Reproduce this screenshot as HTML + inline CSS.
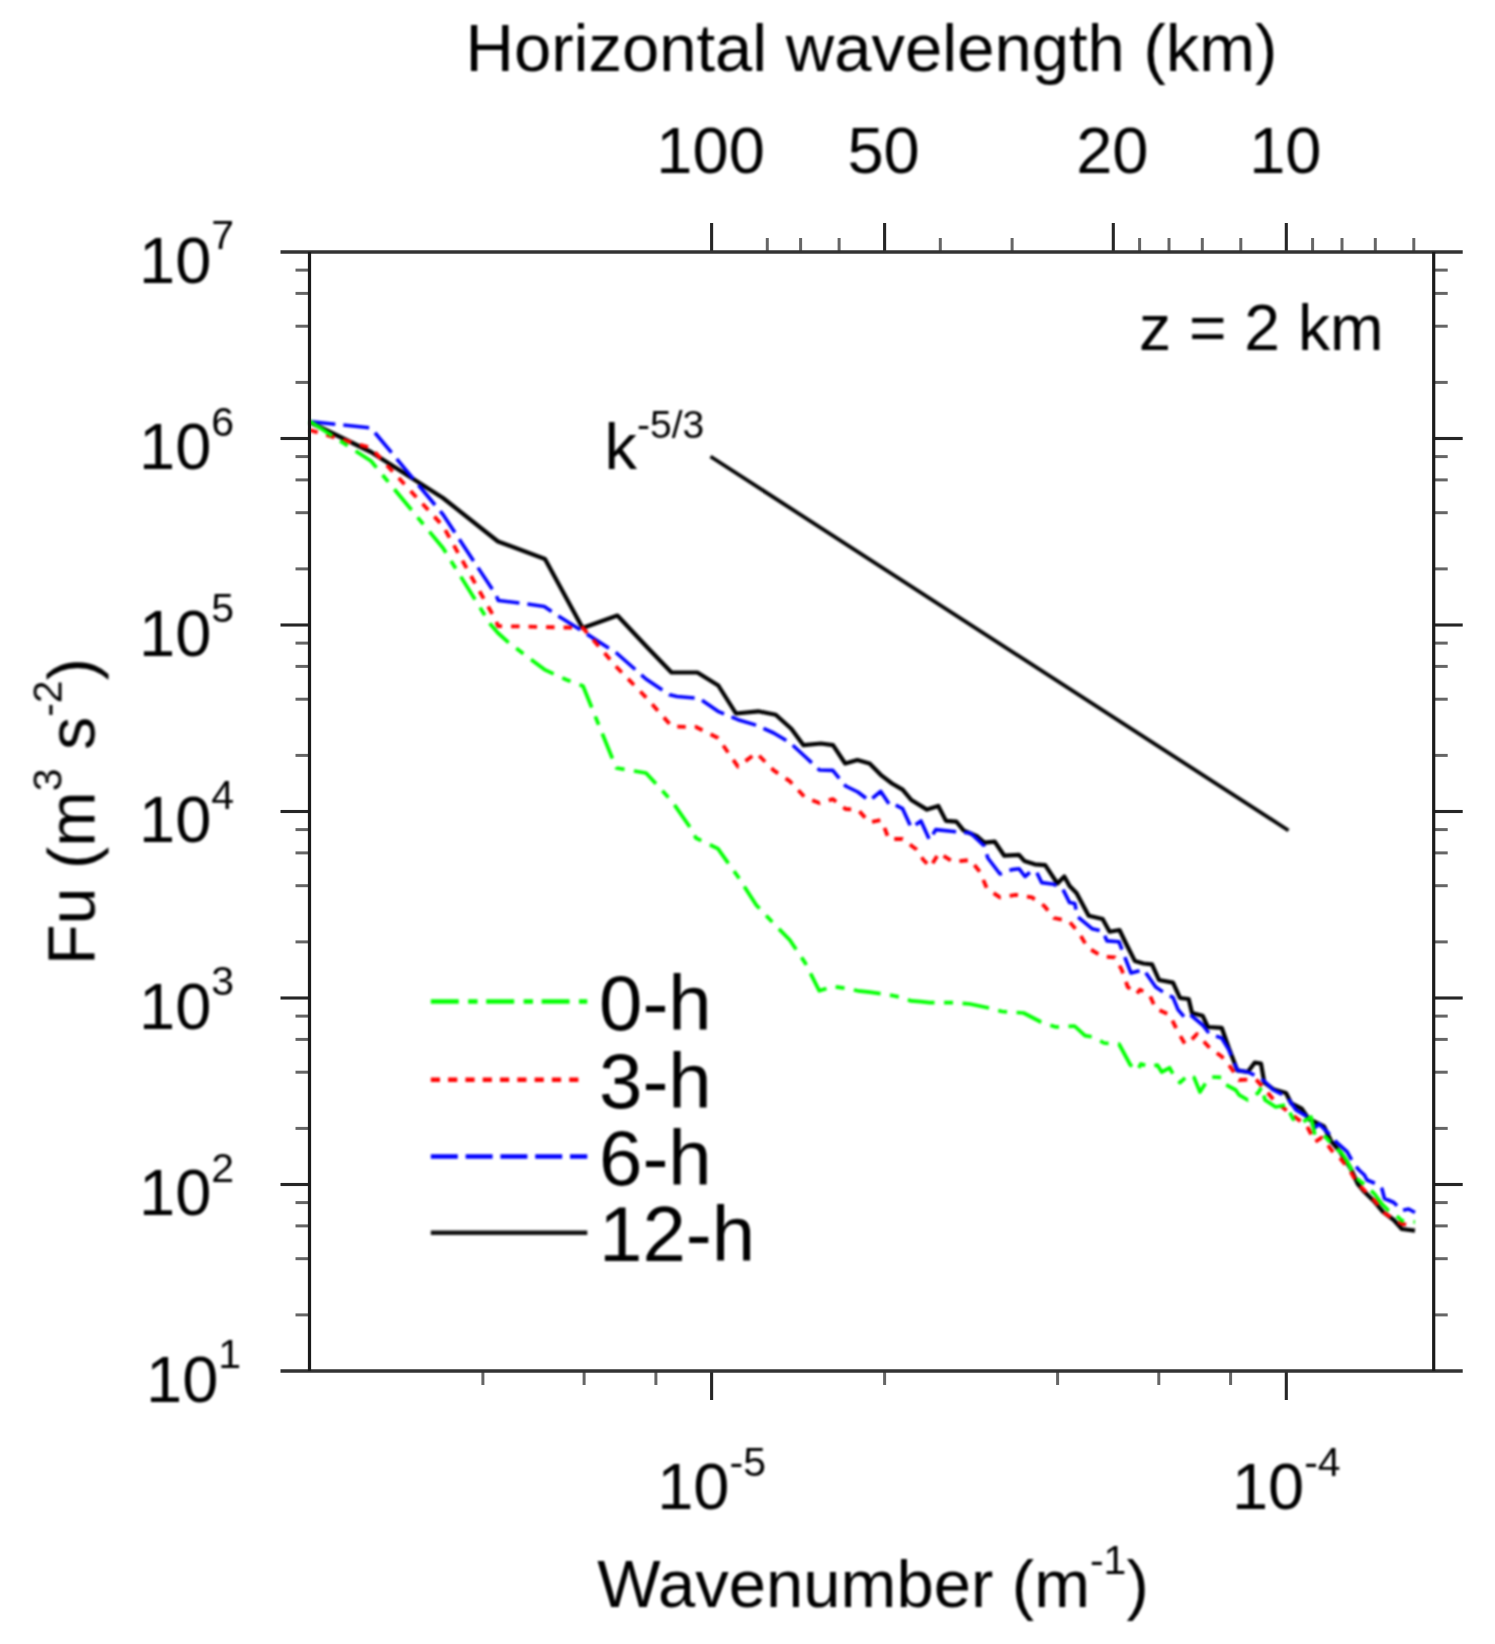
<!DOCTYPE html>
<html lang="en"><head><meta charset="utf-8"><title>Fu spectra, z = 2 km</title>
<style>
html,body{margin:0;padding:0;background:#fff;}
body{width:1495px;height:1644px;overflow:hidden;}
svg{display:block;font-family:"Liberation Sans",Arial,Helvetica,sans-serif;fill:#000;}
.ax{stroke:#1a1a1a;stroke-width:3.2;fill:none;}
.axh{stroke:#333;stroke-width:3.4;fill:none;}
.tk{stroke:#262626;stroke-width:3.1;fill:none;}
.mt{stroke:#666;stroke-width:3;fill:none;}
.c{fill:none;stroke-linejoin:round;stroke-linecap:butt;}
.t{font-size:65px;}
.s{font-size:41px;}
.lg{font-size:78px;}
#chart{width:1495px;height:1644px;}
#curves,#labels,#legend{filter:blur(1px);}
</style></head><body><div id="chart">
<svg width="1495" height="1644" viewBox="0 0 1495 1644">
<rect width="1495" height="1644" fill="#fff"/>
<g id="plot">
<g id="curves">
<polyline class="c" stroke="#000" stroke-width="4.2" points="309.5,422.0 371.0,452.0 443.0,498.0 498.0,541.5 545.0,559.0 582.6,628.0 617.4,615.5 646.0,646.0 671.5,672.5 697.4,672.5 718.3,685.5 736.0,713.5 758.3,711.3 775.7,714.8 791.3,728.7 803.5,745.2 820.9,743.5 833.0,745.2 845.2,763.5 857.4,760.0 869.6,763.5 881.7,775.7 892.0,783.5 902.6,789.6 911.3,800.0 927.0,809.6 938.3,806.0 946.0,820.9 956.5,821.7 963.5,830.4 977.4,836.5 984.3,842.6 994.8,841.7 1004.3,855.7 1019.0,854.8 1024.3,860.9 1034.8,864.3 1045.2,865.2 1057.4,883.5 1064.3,876.5 1069.6,886.0 1076.5,893.0 1088.7,915.7 1102.6,919.0 1109.6,931.7 1119.5,930.0 1126.0,943.5 1134.8,960.9 1143.5,963.5 1152.0,964.3 1159.0,980.0 1173.0,982.6 1180.0,998.0 1188.7,999.0 1192.0,1013.0 1202.6,1015.7 1207.8,1027.0 1221.7,1027.8 1228.7,1047.8 1237.4,1070.4 1247.8,1072.0 1254.8,1062.6 1261.0,1063.5 1264.3,1082.6 1274.0,1089.6 1286.0,1093.0 1291.3,1103.5 1301.7,1108.7 1308.7,1119.0 1324.0,1126.5 1331.0,1141.0 1340.0,1151.7 1351.0,1169.0 1357.7,1183.8 1364.4,1191.8 1373.8,1201.0 1383.0,1211.9 1393.8,1220.0 1401.9,1229.0 1415.0,1230.6"/>
<polyline class="c" stroke="#00f" stroke-width="3.6" stroke-dasharray="26 8" points="309.5,421.5 371.0,428.0 443.0,514.5 496.0,595.0 498.3,600.5 524.0,603.5 544.3,606.5 556.0,614.5 582.6,631.3 616.5,653.0 646.0,679.0 669.6,694.8 677.0,696.5 699.0,698.3 718.0,711.3 738.0,719.7 756.4,725.2 773.7,733.0 789.8,742.6 805.0,756.5 819.3,770.0 832.8,770.4 845.6,786.0 857.8,792.0 869.5,800.9 880.6,791.3 890.4,806.0 895.7,805.2 902.6,808.7 911.3,827.8 921.0,821.0 929.6,840.0 935.7,829.6 958.3,832.0 970.4,833.0 984.3,846.0 987.8,858.0 1000.0,874.0 1012.0,869.6 1019.0,868.7 1025.0,876.5 1031.3,871.3 1036.5,872.0 1041.7,882.6 1054.0,884.3 1062.6,888.7 1069.6,902.6 1074.8,903.5 1077.4,916.5 1092.0,928.7 1102.6,931.3 1107.0,940.9 1119.0,941.7 1124.3,955.7 1131.0,973.0 1143.5,969.6 1155.7,987.0 1166.0,994.0 1173.0,997.4 1178.0,1009.6 1185.0,1018.0 1190.4,1014.8 1202.6,1025.0 1209.6,1034.0 1221.7,1038.0 1228.7,1049.6 1237.4,1070.4 1247.8,1072.0 1256.0,1076.0 1264.0,1080.8 1273.4,1090.0 1286.8,1096.8 1296.0,1110.0 1305.6,1115.6 1315.0,1127.6 1319.0,1124.0 1328.3,1133.0 1336.3,1142.0 1347.0,1151.7 1353.7,1163.7 1359.0,1170.0 1364.4,1175.0 1367.0,1180.0 1379.0,1185.0 1382.0,1189.0 1384.5,1198.5 1393.8,1202.5 1401.9,1210.5 1408.6,1209.0 1415.0,1212.5"/>
<polyline class="c" stroke="#f00" stroke-width="3.8" stroke-dasharray="8.5 9" points="309.5,430.0 371.0,448.0 443.0,526.0 495.7,620.0 498.0,626.0 544.5,627.0 583.0,628.0 616.5,667.0 646.0,697.4 672.0,726.5 696.0,727.0 718.0,738.0 738.0,766.6 756.4,753.0 773.7,770.4 789.8,781.2 805.0,797.4 819.3,803.1 832.8,799.1 845.6,809.0 857.8,809.6 869.5,822.3 880.6,820.0 883.5,825.0 888.7,839.0 902.6,839.0 916.5,849.6 923.5,860.0 930.4,867.0 939.0,853.0 953.0,861.7 970.4,860.0 980.0,872.0 987.0,888.7 1000.0,897.4 1015.7,894.8 1032.0,897.4 1044.3,906.0 1054.0,918.0 1068.7,920.9 1079.0,933.0 1087.8,947.8 1102.6,956.5 1114.8,957.4 1121.7,969.6 1127.8,987.0 1136.5,994.0 1140.0,989.6 1149.6,994.8 1155.7,1008.7 1169.6,1014.8 1178.0,1032.0 1185.0,1044.0 1190.4,1040.9 1197.0,1034.0 1209.6,1047.8 1221.7,1056.5 1230.4,1067.0 1239.0,1080.0 1256.0,1079.4 1264.6,1089.0 1273.4,1099.5 1282.8,1107.5 1295.0,1117.0 1307.0,1126.0 1315.0,1142.0 1321.6,1137.6 1325.6,1142.0 1333.6,1153.0 1340.0,1158.0 1349.7,1170.0 1356.4,1182.0 1365.8,1191.8 1375.0,1201.0 1384.5,1213.0 1396.5,1221.0 1401.9,1223.8 1415.0,1226.6"/>
<polyline class="c" stroke="#0f0" stroke-width="3.7" stroke-dasharray="27 9.5 9 9.5" points="309.5,421.0 371.0,461.0 443.0,548.0 490.4,624.3 498.0,633.0 508.7,642.6 544.5,669.6 567.0,680.0 583.0,686.0 613.0,760.0 616.5,768.0 646.0,773.0 672.3,801.7 690.4,827.8 696.0,838.0 717.9,848.7 737.9,876.5 756.4,905.2 773.7,923.5 789.8,940.0 805.0,962.6 819.3,990.8 832.8,986.4 845.6,988.3 857.8,990.8 869.5,992.2 880.6,993.6 891.2,995.3 901.4,997.4 911.2,1000.9 920.6,1001.7 929.7,1002.6 955.0,1002.6 970.0,1004.0 989.0,1008.0 1002.0,1011.5 1023.6,1013.0 1041.0,1022.0 1055.8,1027.0 1074.5,1026.0 1085.0,1035.6 1093.0,1037.0 1104.0,1043.0 1119.0,1044.0 1130.4,1065.0 1137.4,1070.4 1140.9,1064.0 1150.4,1067.0 1157.4,1065.0 1161.7,1072.0 1169.6,1067.8 1174.8,1077.4 1180.0,1082.6 1188.7,1074.8 1194.0,1077.4 1200.0,1092.0 1206.0,1082.6 1212.0,1077.0 1221.7,1077.4 1225.0,1084.3 1235.7,1090.0 1239.0,1094.8 1247.8,1100.0 1258.0,1093.0 1261.7,1087.0 1265.0,1100.0 1275.7,1107.0 1286.0,1105.0 1293.0,1119.0 1301.7,1122.6 1311.0,1117.0 1315.0,1135.6 1325.6,1137.0 1333.6,1146.0 1341.7,1153.0 1347.0,1161.0 1355.0,1177.0 1367.0,1186.5 1375.0,1194.5 1381.8,1203.8 1388.5,1210.5 1395.0,1214.5 1401.9,1220.6 1415.0,1222.0"/>
<line class="c" stroke="#000" stroke-width="3.8" x1="710.5" y1="456.5" x2="1288.5" y2="830.5"/>
</g>
<g id="axes">
<line class="mt" x1="295.5" y1="1314.9" x2="309.5" y2="1314.9"/>
<line class="mt" x1="1433.7" y1="1314.9" x2="1447.7" y2="1314.9"/>
<line class="mt" x1="295.5" y1="1258.7" x2="309.5" y2="1258.7"/>
<line class="mt" x1="1433.7" y1="1258.7" x2="1447.7" y2="1258.7"/>
<line class="mt" x1="295.5" y1="1225.9" x2="309.5" y2="1225.9"/>
<line class="mt" x1="1433.7" y1="1225.9" x2="1447.7" y2="1225.9"/>
<line class="mt" x1="295.5" y1="1202.6" x2="309.5" y2="1202.6"/>
<line class="mt" x1="1433.7" y1="1202.6" x2="1447.7" y2="1202.6"/>
<line class="tk" x1="280.5" y1="1184.5" x2="309.5" y2="1184.5"/>
<line class="tk" x1="1433.7" y1="1184.5" x2="1462.7" y2="1184.5"/>
<line class="mt" x1="295.5" y1="1128.4" x2="309.5" y2="1128.4"/>
<line class="mt" x1="1433.7" y1="1128.4" x2="1447.7" y2="1128.4"/>
<line class="mt" x1="295.5" y1="1072.2" x2="309.5" y2="1072.2"/>
<line class="mt" x1="1433.7" y1="1072.2" x2="1447.7" y2="1072.2"/>
<line class="mt" x1="295.5" y1="1039.4" x2="309.5" y2="1039.4"/>
<line class="mt" x1="1433.7" y1="1039.4" x2="1447.7" y2="1039.4"/>
<line class="mt" x1="295.5" y1="1016.1" x2="309.5" y2="1016.1"/>
<line class="mt" x1="1433.7" y1="1016.1" x2="1447.7" y2="1016.1"/>
<line class="tk" x1="280.5" y1="998.0" x2="309.5" y2="998.0"/>
<line class="tk" x1="1433.7" y1="998.0" x2="1462.7" y2="998.0"/>
<line class="mt" x1="295.5" y1="941.9" x2="309.5" y2="941.9"/>
<line class="mt" x1="1433.7" y1="941.9" x2="1447.7" y2="941.9"/>
<line class="mt" x1="295.5" y1="885.7" x2="309.5" y2="885.7"/>
<line class="mt" x1="1433.7" y1="885.7" x2="1447.7" y2="885.7"/>
<line class="mt" x1="295.5" y1="852.9" x2="309.5" y2="852.9"/>
<line class="mt" x1="1433.7" y1="852.9" x2="1447.7" y2="852.9"/>
<line class="mt" x1="295.5" y1="829.6" x2="309.5" y2="829.6"/>
<line class="mt" x1="1433.7" y1="829.6" x2="1447.7" y2="829.6"/>
<line class="tk" x1="280.5" y1="811.5" x2="309.5" y2="811.5"/>
<line class="tk" x1="1433.7" y1="811.5" x2="1462.7" y2="811.5"/>
<line class="mt" x1="295.5" y1="755.4" x2="309.5" y2="755.4"/>
<line class="mt" x1="1433.7" y1="755.4" x2="1447.7" y2="755.4"/>
<line class="mt" x1="295.5" y1="699.2" x2="309.5" y2="699.2"/>
<line class="mt" x1="1433.7" y1="699.2" x2="1447.7" y2="699.2"/>
<line class="mt" x1="295.5" y1="666.4" x2="309.5" y2="666.4"/>
<line class="mt" x1="1433.7" y1="666.4" x2="1447.7" y2="666.4"/>
<line class="mt" x1="295.5" y1="643.1" x2="309.5" y2="643.1"/>
<line class="mt" x1="1433.7" y1="643.1" x2="1447.7" y2="643.1"/>
<line class="tk" x1="280.5" y1="625.0" x2="309.5" y2="625.0"/>
<line class="tk" x1="1433.7" y1="625.0" x2="1462.7" y2="625.0"/>
<line class="mt" x1="295.5" y1="568.9" x2="309.5" y2="568.9"/>
<line class="mt" x1="1433.7" y1="568.9" x2="1447.7" y2="568.9"/>
<line class="mt" x1="295.5" y1="512.7" x2="309.5" y2="512.7"/>
<line class="mt" x1="1433.7" y1="512.7" x2="1447.7" y2="512.7"/>
<line class="mt" x1="295.5" y1="479.9" x2="309.5" y2="479.9"/>
<line class="mt" x1="1433.7" y1="479.9" x2="1447.7" y2="479.9"/>
<line class="mt" x1="295.5" y1="456.6" x2="309.5" y2="456.6"/>
<line class="mt" x1="1433.7" y1="456.6" x2="1447.7" y2="456.6"/>
<line class="tk" x1="280.5" y1="438.5" x2="309.5" y2="438.5"/>
<line class="tk" x1="1433.7" y1="438.5" x2="1462.7" y2="438.5"/>
<line class="mt" x1="295.5" y1="382.4" x2="309.5" y2="382.4"/>
<line class="mt" x1="1433.7" y1="382.4" x2="1447.7" y2="382.4"/>
<line class="mt" x1="295.5" y1="326.2" x2="309.5" y2="326.2"/>
<line class="mt" x1="1433.7" y1="326.2" x2="1447.7" y2="326.2"/>
<line class="mt" x1="295.5" y1="293.4" x2="309.5" y2="293.4"/>
<line class="mt" x1="1433.7" y1="293.4" x2="1447.7" y2="293.4"/>
<line class="mt" x1="295.5" y1="270.1" x2="309.5" y2="270.1"/>
<line class="mt" x1="1433.7" y1="270.1" x2="1447.7" y2="270.1"/>
<line class="mt" x1="482.9" y1="1371.0" x2="482.9" y2="1385.0"/>
<line class="mt" x1="584.1" y1="1371.0" x2="584.1" y2="1385.0"/>
<line class="mt" x1="655.9" y1="1371.0" x2="655.9" y2="1385.0"/>
<line class="tk" x1="711.6" y1="1371.0" x2="711.6" y2="1400.0"/>
<line class="mt" x1="884.6" y1="1371.0" x2="884.6" y2="1385.0"/>
<line class="mt" x1="1057.6" y1="1371.0" x2="1057.6" y2="1385.0"/>
<line class="mt" x1="1158.8" y1="1371.0" x2="1158.8" y2="1385.0"/>
<line class="mt" x1="1230.6" y1="1371.0" x2="1230.6" y2="1385.0"/>
<line class="tk" x1="1286.3" y1="1371.0" x2="1286.3" y2="1400.0"/>
<line class="tk" x1="711.6" y1="252.0" x2="711.6" y2="223.0"/>
<line class="mt" x1="767.3" y1="252.0" x2="767.3" y2="238.0"/>
<line class="mt" x1="800.6" y1="252.0" x2="800.6" y2="238.0"/>
<line class="mt" x1="839.1" y1="252.0" x2="839.1" y2="238.0"/>
<line class="tk" x1="884.6" y1="252.0" x2="884.6" y2="223.0"/>
<line class="mt" x1="940.3" y1="252.0" x2="940.3" y2="238.0"/>
<line class="mt" x1="1012.1" y1="252.0" x2="1012.1" y2="238.0"/>
<line class="tk" x1="1113.3" y1="252.0" x2="1113.3" y2="223.0"/>
<line class="mt" x1="1139.6" y1="252.0" x2="1139.6" y2="238.0"/>
<line class="mt" x1="1169.0" y1="252.0" x2="1169.0" y2="238.0"/>
<line class="mt" x1="1202.3" y1="252.0" x2="1202.3" y2="238.0"/>
<line class="mt" x1="1240.8" y1="252.0" x2="1240.8" y2="238.0"/>
<line class="tk" x1="1286.3" y1="252.0" x2="1286.3" y2="223.0"/>
<line class="mt" x1="1312.6" y1="252.0" x2="1312.6" y2="238.0"/>
<line class="mt" x1="1342.0" y1="252.0" x2="1342.0" y2="238.0"/>
<line class="mt" x1="1375.3" y1="252.0" x2="1375.3" y2="238.0"/>
<line class="mt" x1="1413.8" y1="252.0" x2="1413.8" y2="238.0"/>
<line class="axh" x1="280.5" y1="252.0" x2="1462.7" y2="252.0"/>
<line class="axh" x1="280.5" y1="1371.0" x2="1462.7" y2="1371.0"/>
<line class="ax" x1="309.5" y1="252.0" x2="309.5" y2="1371.0"/>
<line class="ax" x1="1433.7" y1="252.0" x2="1433.7" y2="1371.0"/>
</g>
<g id="labels">
<text class="t" x="871.5" y="71.3" text-anchor="middle" style="font-size:67px">Horizontal wavelength (km)</text>
<text class="t" x="710.6" y="172.5" text-anchor="middle">100</text>
<text class="t" x="883.6" y="172.5" text-anchor="middle">50</text>
<text class="t" x="1112.3" y="172.5" text-anchor="middle">20</text>
<text class="t" x="1285.3" y="172.5" text-anchor="middle">10</text>
<text class="t" x="146" y="1401.5">10<tspan class="s" dy="-33.5">1</tspan></text>
<text class="t" x="139" y="1215.0">10<tspan class="s" dy="-33.5">2</tspan></text>
<text class="t" x="139" y="1028.5">10<tspan class="s" dy="-33.5">3</tspan></text>
<text class="t" x="139" y="842.0">10<tspan class="s" dy="-33.5">4</tspan></text>
<text class="t" x="139" y="655.5">10<tspan class="s" dy="-33.5">5</tspan></text>
<text class="t" x="139" y="469.0">10<tspan class="s" dy="-33.5">6</tspan></text>
<text class="t" x="139" y="282.5">10<tspan class="s" dy="-33.5">7</tspan></text>
<text class="t" x="711.6" y="1509" text-anchor="middle">10<tspan class="s" dy="-33.5">-5</tspan></text>
<text class="t" x="1286.3" y="1509" text-anchor="middle">10<tspan class="s" dy="-33.5">-4</tspan></text>
<text class="t" x="873" y="1606.5" text-anchor="middle" style="font-size:67px">Wavenumber (m<tspan class="s" dy="-33">-1</tspan><tspan dy="33">)</tspan></text>
<text class="t" transform="translate(94.5,965) rotate(-90)" style="font-size:66.5px">Fu (m<tspan class="s" dy="-33">3</tspan><tspan dy="33"> s</tspan><tspan class="s" dy="-33">-2</tspan><tspan dy="33">)</tspan></text>
<text class="t" x="1139" y="350" textLength="244.5" lengthAdjust="spacingAndGlyphs">z = 2 km</text>
<text class="t" x="604.5" y="468.8">k<tspan class="s" dy="-31" style="font-size:39px">-5/3</tspan></text>
</g>
<g id="legend">
<line class="c" stroke="#0f0" stroke-width="4.5" stroke-dasharray="28 9.4 9.4 8.6" x1="430.8" y1="1001.6" x2="587.3" y2="1001.6"/>
<line class="c" stroke="#f00" stroke-width="4.5" stroke-dasharray="9.2 8.1" x1="430.8" y1="1079.8" x2="581.3" y2="1079.8"/>
<line class="c" stroke="#00f" stroke-width="4.5" stroke-dasharray="27 7.8" x1="430.8" y1="1156.6" x2="587.3" y2="1156.6"/>
<line class="c" stroke="#111" stroke-width="4.5" x1="430.8" y1="1232.8" x2="587.3" y2="1232.8"/>
<text class="lg" x="599" y="1030.3">0-h</text>
<text class="lg" x="599" y="1107.9">3-h</text>
<text class="lg" x="599" y="1184.9">6-h</text>
<text class="lg" x="599" y="1261.4">12-h</text>
</g>
</g>
</svg>
</div></body></html>
